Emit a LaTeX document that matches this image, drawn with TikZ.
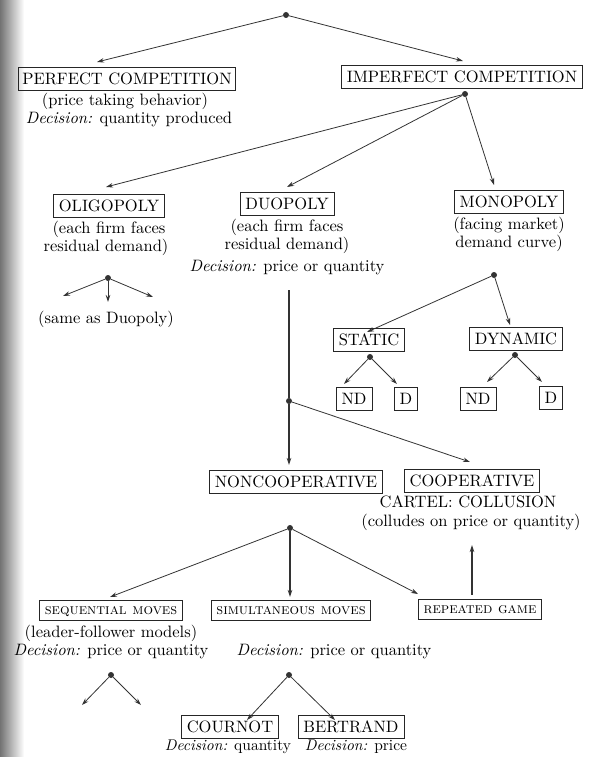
\documentclass[tikz,border=0pt]{standalone}
\usepackage{fontspec}
\setmainfont{lmroman10-regular}[Extension=.otf, BoldFont=lmroman10-bold, ItalicFont=lmroman10-italic, SmallCapsFont=lmromancaps10-regular]
\usetikzlibrary{arrows.meta}
\begin{document}
\begin{tikzpicture}[x=1pt,y=-1pt,
  every node/.style={font=\fontsize{16.5}{18}\selectfont, text=black},
  box/.style={draw=black!85, line width=0.75pt, inner xsep=5.5pt, inner ysep=0pt, minimum height=23pt, text height=11.3pt, text depth=0pt},
  sbox/.style={draw=black!85, line width=0.75pt, inner xsep=5pt, inner ysep=0pt, minimum height=20pt, text height=8pt, text depth=0pt, font=\fontsize{15}{17}\selectfont\scshape},
  txt/.style={anchor=base, inner sep=0pt},
  dot/.style={circle, fill=black!80, inner sep=0pt, minimum size=6pt},
  arr/.style={-{Stealth[length=7pt,width=4.5pt]}, line width=0.8pt, draw=black!80},
  ln/.style={line width=1.1pt, draw=black!80}]
\useasboundingbox (0,0) rectangle (592,757);
\shade[left color=black!55, right color=white] (0,0) rectangle (24,757);
% top level
\node[dot] (root) at (286,15) {};
\coordinate (aPerf) at (97,62);
\coordinate (aImp) at (463,61);
\draw[arr] (root) -- (aPerf);
\draw[arr] (root) -- (aImp);
\node[box, inner xsep=4pt] (perf) at (127,79) {PERFECT COMPETITION};
\node[txt] (perf1) at (125,106) {(price taking behavior)};
\node[txt] (perf2) at (129,124) {\textit{Decision:} quantity produced};
\node[box] (imp) at (462,77) {IMPERFECT COMPETITION};
\node[dot] (impd) at (465,94) {};
\coordinate (aOli) at (106,187);
\coordinate (aDuo) at (287,187);
\coordinate (aMono) at (494,185);
\draw[arr] (impd) -- (aOli);
\draw[arr] (impd) -- (aDuo);
\draw[arr] (impd) -- (aMono);
% second level
\node[box] (oli) at (109,206) {OLIGOPOLY};
\node[txt] (oli1) at (109,233) {(each firm faces};
\node[txt] (oli2) at (106,251) {residual demand)};
\node[box] (duo) at (287,204) {DUOPOLY};
\node[txt] (duo1) at (287,231) {(each firm faces};
\node[txt] (duo2) at (287,249) {residual demand)};
\node[txt] (duo3) at (287,271) {\textit{Decision:} price or quantity};
\node[box] (mono) at (509,202) {MONOPOLY};
\node[txt] (mono1) at (509,229) {(facing market)};
\node[txt] (mono2) at (509,247) {demand curve)};
% oligopoly
\node[dot] (olid) at (108,278) {};
\coordinate (o1) at (63,296);
\coordinate (o2) at (108,302);
\coordinate (o3) at (153,297);
\draw[arr] (olid) -- (o1);
\draw[arr] (olid) -- (o2);
\draw[arr] (olid) -- (o3);
\node[txt] (same) at (106,323) {(same as Duopoly)};
% monopoly
\node[dot] (monod) at (494,275) {};
\coordinate (aStat) at (367,332);
\coordinate (aDyn) at (510,325);
\draw[arr] (monod) -- (aStat);
\draw[arr] (monod) -- (aDyn);
\node[box] (stat) at (369,340) {STATIC};
\node[box] (dyn) at (516,339) {DYNAMIC};
\node[dot] (statd) at (370,357) {};
\node[dot] (dynd) at (515,355) {};
\node[box] (nd1) at (354,399) {ND};
\node[box] (d1) at (406,399) {D};
\node[box] (nd2) at (478,399) {ND};
\node[box] (d2) at (551,398) {D};
\coordinate (s1) at (344,384);
\coordinate (s2) at (397,384);
\coordinate (s3) at (487,382);
\coordinate (s4) at (542,382);
\draw[arr] (statd) -- (s1);
\draw[arr] (statd) -- (s2);
\draw[arr] (dynd) -- (s3);
\draw[arr] (dynd) -- (s4);
% duopoly trunk
\coordinate (trunk) at (289,290);
\node[dot] (split) at (289,401) {};
\coordinate (aNon) at (289,465);
\coordinate (aCoop) at (470,462);
\draw[ln] (trunk) -- (split);
\draw[arr, line width=1.1pt] (split) -- (aNon);
\draw[arr] (split) -- (aCoop);
\node[box] (non) at (296,482) {NONCOOPERATIVE};
\node[box] (coop) at (472,481) {COOPERATIVE};
\node[txt] (coop1) at (468,507) {CARTEL: COLLUSION};
\node[txt] (coop2) at (471,526) {(colludes on price or quantity)};
% noncooperative
\node[dot] (nond) at (290,528) {};
\coordinate (aSeq) at (110,597);
\coordinate (aSim) at (290,597);
\coordinate (aRep) at (418,594);
\draw[arr] (nond) -- (aSeq);
\draw[arr, line width=1.1pt] (nond) -- (aSim);
\draw[arr] (nond) -- (aRep);
\node[sbox] (seq) at (111,610) {sequential moves};
\node[sbox] (sim) at (291,610) {simultaneous moves};
\node[sbox] (rep) at (480,609) {repeated game};
\coordinate (aCart) at (472,545);
\draw[arr, line width=1.1pt] (rep.north -| aCart) ++(0,-4) coordinate (repTop) -- (aCart);
\node[txt] (seq1) at (111,637) {(leader-follower models)};
\node[txt] (seq2) at (111,655) {\textit{Decision:} price or quantity};
\node[txt] (sim1) at (334,655) {\textit{Decision:} price or quantity};
\node[dot] (seqd) at (111,675) {};
\coordinate (q1) at (82,705);
\coordinate (q2) at (141,705);
\draw[arr] (seqd) -- (q1);
\draw[arr] (seqd) -- (q2);
\node[dot] (simd) at (289,675) {};
\coordinate (c1) at (247,720);
\coordinate (c2) at (335,720);
\draw[arr] (simd) -- (c1);
\draw[arr] (simd) -- (c2);
\node[box] (cour) at (230,727) {COURNOT};
\node[box] (bert) at (351,727) {BERTRAND};
\node[txt, font=\fontsize{15.5}{17}\selectfont] (cour1) at (228,750) {\textit{Decision:} quantity};
\node[txt, font=\fontsize{15.5}{17}\selectfont] (bert1) at (356,750) {\textit{Decision:} price};
\end{tikzpicture}
\end{document}
